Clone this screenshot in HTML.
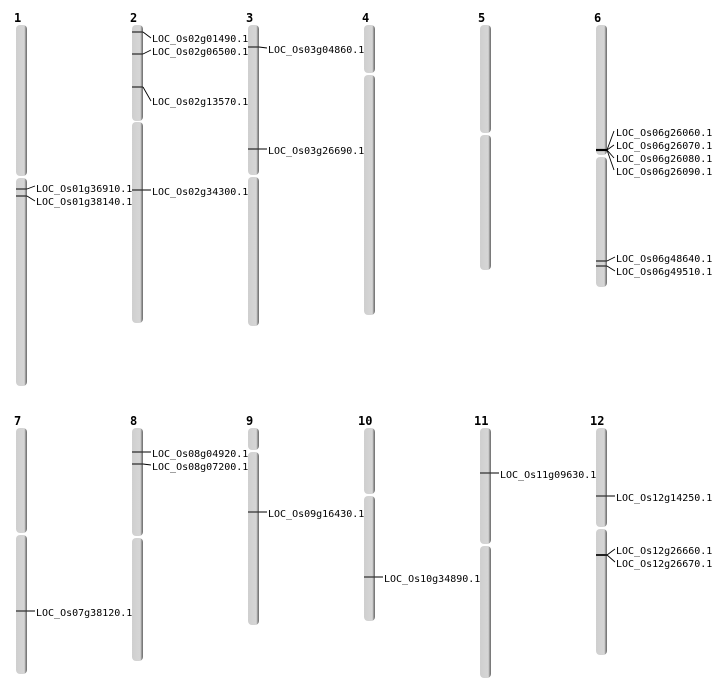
<!DOCTYPE html>
<html><head><meta charset="utf-8"><style>
html,body{margin:0;padding:0;background:#fff;width:712px;height:700px;overflow:hidden}
text{font-family:"DejaVu Sans Mono","Liberation Mono",monospace;font-size:10px;fill:#000}
.n{font-weight:bold;font-size:12px}
.c{fill:url(#g)}
.m{stroke:#333;stroke-width:1.3}
.k{stroke:#000;stroke-width:0.9;fill:none}
</style></head><body>
<svg width="712" height="700" xmlns="http://www.w3.org/2000/svg">
<defs><linearGradient id="g" x1="0" x2="1" y1="0" y2="0">
<stop offset="0" stop-color="#cfcfcf"/><stop offset="0.75" stop-color="#d6d6d6"/><stop offset="0.85" stop-color="#a0a0a0"/><stop offset="1" stop-color="#6a6a6a"/></linearGradient></defs>

<text class="n" x="14" y="22">1</text><text class="n" x="130" y="22">2</text><text class="n" x="246" y="22">3</text><text class="n" x="362" y="22">4</text><text class="n" x="478" y="22">5</text><text class="n" x="594" y="22">6</text>
<text class="n" x="14" y="425">7</text><text class="n" x="130" y="425">8</text><text class="n" x="246" y="425">9</text><text class="n" x="358" y="425">10</text><text class="n" x="474" y="425">11</text><text class="n" x="590" y="425">12</text>

<!-- chromosomes -->
<rect class="c" x="16" y="25" width="11" height="151" rx="4"/><rect class="c" x="16" y="178" width="11" height="208" rx="4"/>
<rect class="c" x="132" y="25" width="11" height="96" rx="4"/><rect class="c" x="132" y="122" width="11" height="201" rx="4"/>
<rect class="c" x="248" y="25" width="11" height="150" rx="4"/><rect class="c" x="248" y="177" width="11" height="149" rx="4"/>
<rect class="c" x="364" y="25" width="11" height="48" rx="4"/><rect class="c" x="364" y="75" width="11" height="240" rx="4"/>
<rect class="c" x="480" y="25" width="11" height="108" rx="4"/><rect class="c" x="480" y="135" width="11" height="135" rx="4"/>
<rect class="c" x="596" y="25" width="11" height="130" rx="4"/><rect class="c" x="596" y="157" width="11" height="130" rx="4"/>

<rect class="c" x="16" y="428" width="11" height="105" rx="4"/><rect class="c" x="16" y="535" width="11" height="139" rx="4"/>
<rect class="c" x="132" y="428" width="11" height="108" rx="4"/><rect class="c" x="132" y="538" width="11" height="123" rx="4"/>
<rect class="c" x="248" y="428" width="11" height="22" rx="4"/><rect class="c" x="248" y="452" width="11" height="173" rx="4"/>
<rect class="c" x="364" y="428" width="11" height="66" rx="4"/><rect class="c" x="364" y="496" width="11" height="125" rx="4"/>
<rect class="c" x="480" y="428" width="11" height="116" rx="4"/><rect class="c" x="480" y="546" width="11" height="132" rx="4"/>
<rect class="c" x="596" y="428" width="11" height="99" rx="4"/><rect class="c" x="596" y="529" width="11" height="126" rx="4"/>

<!-- markers: chr1 -->
<line class="m" x1="16" x2="27" y1="189" y2="189"/><line class="m" x1="16" x2="27" y1="196" y2="196"/>
<path class="k" d="M27 189 L35 186 M27 196 L35 201"/>
<text x="36" y="192">LOC_Os01g36910.1</text><text x="36" y="205">LOC_Os01g38140.1</text>
<!-- chr2 -->
<line class="m" x1="132" x2="143" y1="32" y2="32"/><line class="m" x1="132" x2="143" y1="54" y2="54"/><line class="m" x1="132" x2="143" y1="87" y2="87"/><line class="m" x1="132" x2="143" y1="190" y2="190"/>
<path class="k" d="M143 32 L151 38 M143 54 L151 50 M143 87 L151 101 M143 190 L151 190"/>
<text x="152" y="42">LOC_Os02g01490.1</text><text x="152" y="55">LOC_Os02g06500.1</text><text x="152" y="105">LOC_Os02g13570.1</text><text x="152" y="195">LOC_Os02g34300.1</text>
<!-- chr3 -->
<line class="m" x1="248" x2="259" y1="47" y2="47"/><line class="m" x1="248" x2="259" y1="149" y2="149"/>
<path class="k" d="M259 47 L267 48 M259 149 L267 149"/>
<text x="268" y="53">LOC_Os03g04860.1</text><text x="268" y="154">LOC_Os03g26690.1</text>
<!-- chr6 -->
<line x1="596" x2="607" y1="150" y2="150" stroke="#000" stroke-width="2.2"/><line class="m" x1="596" x2="607" y1="261" y2="261"/><line class="m" x1="596" x2="607" y1="266" y2="266"/>
<path class="k" d="M607 150 L614 131 M607 150 L614 145 M607 150 L614 158 M607 150 L614 170 M607 261 L615 257 M607 266 L615 271"/>
<text x="616" y="136">LOC_Os06g26060.1</text><text x="616" y="149">LOC_Os06g26070.1</text><text x="616" y="162">LOC_Os06g26080.1</text><text x="616" y="175">LOC_Os06g26090.1</text>
<text x="616" y="262">LOC_Os06g48640.1</text><text x="616" y="275">LOC_Os06g49510.1</text>
<!-- chr7 -->
<line class="m" x1="16" x2="35" y1="611" y2="611"/>
<text x="36" y="616">LOC_Os07g38120.1</text>
<!-- chr8 -->
<line class="m" x1="132" x2="143" y1="452" y2="452"/><line class="m" x1="132" x2="143" y1="464" y2="464"/>
<path class="k" d="M143 452 L151 452 M143 464 L151 465"/>
<text x="152" y="457">LOC_Os08g04920.1</text><text x="152" y="470">LOC_Os08g07200.1</text>
<!-- chr9 -->
<line class="m" x1="248" x2="267" y1="512" y2="512"/>
<text x="268" y="517">LOC_Os09g16430.1</text>
<!-- chr10 -->
<line class="m" x1="364" x2="383" y1="577" y2="577"/>
<text x="384" y="582">LOC_Os10g34890.1</text>
<!-- chr11 -->
<line class="m" x1="480" x2="499" y1="473" y2="473"/>
<text x="500" y="478">LOC_Os11g09630.1</text>
<!-- chr12 -->
<line class="m" x1="596" x2="615" y1="496" y2="496"/>
<text x="616" y="501">LOC_Os12g14250.1</text>
<line x1="596" x2="607" y1="555" y2="555" stroke="#222" stroke-width="2"/>
<path class="k" d="M607 555 L615 549 M607 555 L615 562"/>
<text x="616" y="554">LOC_Os12g26660.1</text><text x="616" y="567">LOC_Os12g26670.1</text>
</svg>
</body></html>
